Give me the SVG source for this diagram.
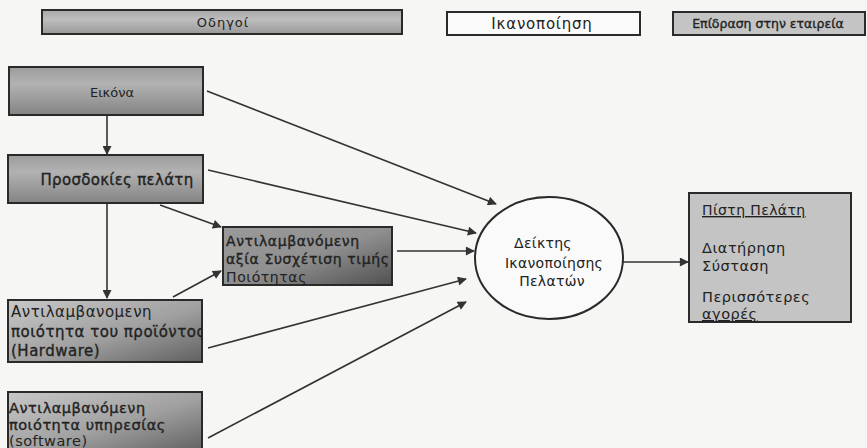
<svg xmlns="http://www.w3.org/2000/svg" width="867" height="448" viewBox="0 0 867 448">
<defs>
<style>
.t{font-family:"DejaVu Sans","Liberation Sans",sans-serif;fill:#222;}
.b{stroke:#222;stroke-width:0.35;}
.box{stroke:#2a2a2a;stroke-width:2;}
.ln{stroke:#333;stroke-width:1.6;fill:none;marker-end:url(#ah);}
</style>
<marker id="ah" viewBox="0 0 10 10" refX="9" refY="5" markerWidth="10" markerHeight="9" markerUnits="userSpaceOnUse" orient="auto">
<path d="M0,0 L10,5 L0,10 z" fill="#333"/>
</marker>
<clipPath id="cHw"><rect x="8" y="300" width="194" height="62"/></clipPath>
<clipPath id="cSw"><rect x="8" y="392" width="194" height="60"/></clipPath>
<linearGradient id="g1" x1="0" y1="0" x2="0" y2="1">
<stop offset="0" stop-color="#9c9c9c"/>
<stop offset="0.35" stop-color="#b2b2b2"/>
<stop offset="1" stop-color="#848484"/>
</linearGradient>
<linearGradient id="g2" x1="0" y1="0" x2="1" y2="1">
<stop offset="0" stop-color="#c8c8c8"/>
<stop offset="0.55" stop-color="#a0a0a0"/>
<stop offset="1" stop-color="#606060"/>
</linearGradient>
<linearGradient id="g3" x1="0" y1="0" x2="1" y2="1">
<stop offset="0" stop-color="#9a9a9a"/>
<stop offset="0.5" stop-color="#909090"/>
<stop offset="1" stop-color="#505050"/>
</linearGradient>
<linearGradient id="g4" x1="0" y1="0" x2="0" y2="1">
<stop offset="0" stop-color="#a8a8a8"/>
<stop offset="0.4" stop-color="#bdbdbd"/>
<stop offset="1" stop-color="#999"/>
</linearGradient>
</defs>
<rect width="867" height="448" fill="#f6f6f5"/>

<g id="legend-drivers">
<rect class="box" x="42" y="10" width="360" height="24" fill="url(#g4)"/>
<text class="t" x="223" y="27" font-size="13" letter-spacing="1" text-anchor="middle" fill="#555">Οδηγοί</text>
</g>
<g id="legend-satisfaction">
<rect class="box" x="447" y="12" width="193" height="23" fill="#fafafa"/>
<text class="t" x="542" y="29" font-size="15" letter-spacing="0.8" text-anchor="middle">Ικανοποίηση</text>
</g>
<g id="legend-impact">
<rect class="box" x="673" y="12" width="192" height="23" fill="#c4c4c4"/>
<text class="t b" x="768" y="28" font-size="12.5" text-anchor="middle">Επίδραση στην εταιρεία</text>
</g>

<g id="connectors">
<line class="ln" x1="107" y1="115" x2="107" y2="154"/>
<line class="ln" x1="107" y1="204" x2="107" y2="298"/>
<line class="ln" x1="207" y1="91" x2="496" y2="204"/>
<line class="ln" x1="208" y1="170" x2="476" y2="233"/>
<line class="ln" x1="160" y1="205" x2="221" y2="227"/>
<line class="ln" x1="173" y1="297" x2="221" y2="271"/>
<line class="ln" x1="397" y1="251" x2="474" y2="251"/>
<line class="ln" x1="208" y1="348" x2="466" y2="279"/>
<line class="ln" x1="208" y1="438" x2="466" y2="302"/>
<line class="ln" x1="623" y1="262" x2="688" y2="262"/>
</g>

<g id="eikona">
<rect class="box" x="9" y="67" width="194" height="48" fill="url(#g1)"/>
<text class="t" x="112" y="97" font-size="13" text-anchor="middle" fill="#333">Εικόνα</text>
</g>
<g id="prosdokies">
<rect class="box" x="8" y="155" width="195" height="48" fill="url(#g1)"/>
<text class="t b" x="117" y="185" font-size="15" letter-spacing="0.3" text-anchor="middle" fill="#2a2a2a">Προσδοκίες πελάτη</text>
</g>
<g id="axia">
<rect class="box" x="223" y="227" width="169" height="58" fill="url(#g3)"/>
<text class="t b" font-size="14" letter-spacing="0.6" fill="#1a1a1a"><tspan x="226" y="246">Αντιλαμβανόμενη</tspan><tspan x="226" y="264">αξία Συσχέτιση τιμής</tspan></text>
<text class="t" x="226" y="282" font-size="14" letter-spacing="0.6" fill="#6e6e6e">Ποιότητας</text>
</g>
<g id="hardware">
<rect class="box" x="8" y="300" width="194" height="62" fill="url(#g2)"/>
<g clip-path="url(#cHw)">
<text class="t" x="11" y="317" font-size="15" letter-spacing="0.5" fill="#8a8a8a">Αντιλαμβανομενη</text>
<text class="t b" font-size="15" letter-spacing="0.5" fill="#1a1a1a"><tspan x="11" y="337">ποιότητα του προϊόντος</tspan><tspan x="11" y="356">(Hardware)</tspan></text>
</g>
</g>
<g id="software">
<rect class="box" x="8" y="392" width="194" height="60" fill="url(#g2)"/>
<g clip-path="url(#cSw)">
<text class="t b" font-size="14.5" letter-spacing="0.5" fill="#1a1a1a"><tspan x="9" y="413">Αντιλαμβανόμενη</tspan><tspan x="9" y="430">ποιότητα υπηρεσίας</tspan></text>
<text class="t" x="9" y="446" font-size="14.5" letter-spacing="0.5" fill="#777">(software)</text>
</g>
</g>
<g id="deiktis">
<ellipse cx="549" cy="258" rx="74" ry="61" fill="#fafafa" stroke="#2a2a2a" stroke-width="2"/>
<text class="t" font-size="14" letter-spacing="0.3" text-anchor="middle" fill="#333"><tspan x="543" y="248">Δείκτης</tspan><tspan x="554" y="268">Ικανοποίησης</tspan><tspan x="552" y="286">Πελατών</tspan></text>
</g>
<g id="pisti">
<rect class="box" x="689" y="193" width="162" height="129" fill="#c4c4c4"/>
<text class="t" x="702" y="215" font-size="14" letter-spacing="0.4" text-decoration="underline">Πίστη Πελάτη</text>
<text class="t" font-size="14.5" letter-spacing="0.5"><tspan x="702" y="253">Διατήρηση</tspan><tspan x="702" y="271">Σύσταση</tspan><tspan x="702" y="302">Περισσότερες</tspan></text>
<text class="t" x="702" y="319" font-size="14.5" letter-spacing="0.5" text-decoration="underline">αγορές</text>
</g>
</svg>
